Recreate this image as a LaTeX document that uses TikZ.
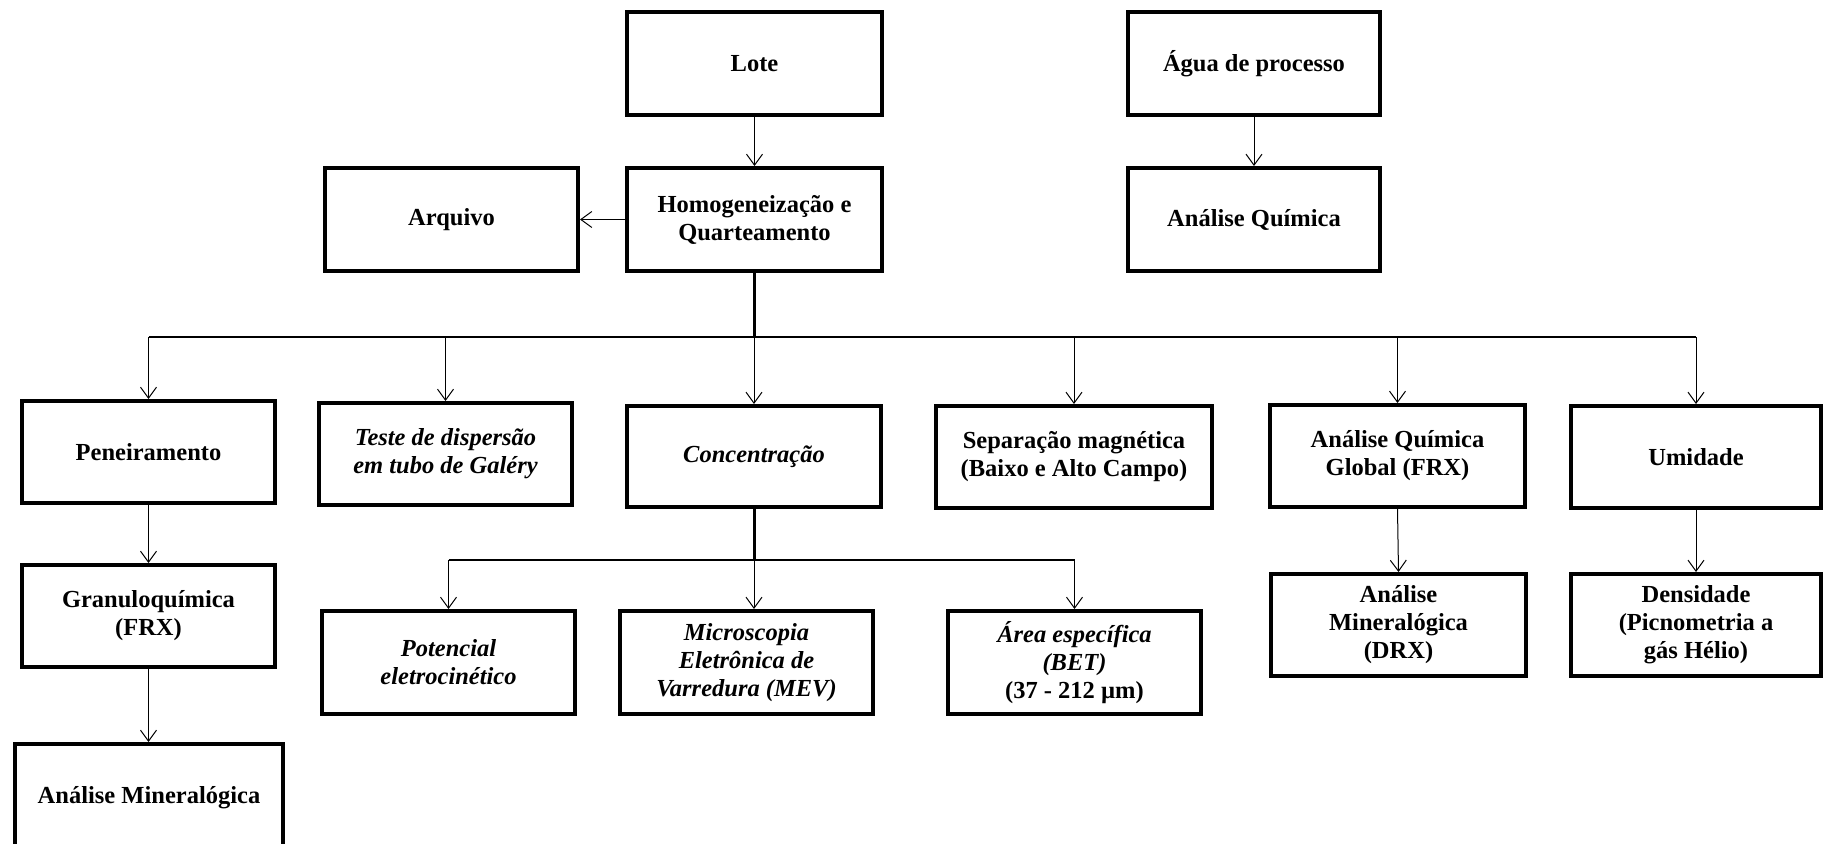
\documentclass[tikz,border=0pt]{standalone}
\usepackage{fontspec}
\setmainfont{Liberation Serif}
\usetikzlibrary{arrows.meta}
\tikzset{
  box/.style={draw, line width=4pt, inner sep=0pt, align=center,
    font=\fontsize{24.5}{28}\selectfont\bfseries},
  arr/.style={line width=1pt, -{Straight Barb[length=11pt,width=16pt]}},
  trunk/.style={line width=3pt},
  busline/.style={line width=1.5pt},
}
\begin{document}
\begin{tikzpicture}[x=1pt,y=-1pt]
\useasboundingbox (0,0) rectangle (1825,843);
\clip (0,0) rectangle (1825,843);
% top
\node[box, minimum width=255, minimum height=103] (lote) at (754.5,63.5) {Lote};
\node[box, minimum width=252, minimum height=103] (agua) at (1254,63.5) {Água de processo};
\node[box, minimum width=253, minimum height=103] (arq) at (451.5,219.5) {Arquivo};
\node[box, minimum width=255, minimum height=103] (hom) at (754.5,219.5) {Homogeneização e\\Quarteamento};
\node[box, minimum width=252, minimum height=103] (aq) at (1254,219.5) {Análise Química};
% row 2
\node[box, minimum width=253, minimum height=102] (pen) at (148.5,452) {Peneiramento};
\node[box, minimum width=253, minimum height=102] (teste) at (445.5,454) {\itshape Teste de dispersão\\\itshape em tubo de Galéry};
\node[box, minimum width=254, minimum height=101] (conc) at (754,456.5) {\itshape Concentração};
\node[box, minimum width=276, minimum height=102] (sep) at (1074,457) {Separação magnética\\(Baixo e Alto Campo)};
\node[box, minimum width=255, minimum height=102] (aqg) at (1397.5,456) {Análise Química\\Global (FRX)};
\node[box, minimum width=250, minimum height=102] (umid) at (1696,457) {Umidade};
% row 3
\node[box, minimum width=253, minimum height=102] (gran) at (148.5,616) {Granuloquímica\\(FRX)};
\node[box, anchor=north, minimum width=268, text height=59pt, text depth=130pt] (am) at (149,742) {Análise Mineralógica};
\node[box, minimum width=253, minimum height=103] (pot) at (448.5,662.5) {\itshape Potencial\\\itshape eletrocinético};
\node[box, minimum width=253, minimum height=103] (mic) at (746.5,662.5) {\itshape Microscopia\\\itshape Eletrônica de\\\itshape Varredura (MEV)};
\node[box, minimum width=253, minimum height=103] (area) at (1074.5,662.5) {\itshape Área específica\\\itshape (BET)\\(37 - 212 µm)};
\node[box, minimum width=255, minimum height=102] (drx) at (1398.5,625) {Análise\\Mineralógica\\(DRX)};
\node[box, minimum width=250, minimum height=102] (dens) at (1696,625) {Densidade\\(Picnometria a\\gás Hélio)};
% connectors top
\draw[arr] (lote) -- (hom);
\draw[arr] (agua) -- (aq);
\draw[arr] (hom.west) -- (arq.east);
\coordinate (bus) at (0,337);
\coordinate (sub) at (0,560);
\draw[trunk] (hom.south) -- (hom.south |- bus);
\draw[busline] (pen.north |- bus) -- (umid.north |- bus);
\foreach \n in {pen,teste,conc,sep,aqg,umid}
  \draw[arr] (\n.north |- bus) -- (\n.north);
% concentration sub-tree
\draw[trunk] (conc.south) -- (conc.south |- sub);
\draw[busline] (pot.north |- sub) -- (area.north |- sub);
\draw[arr] (pot.north |- sub) -- (pot.north);
\draw[arr] (conc.south |- sub) -- (conc.south |- mic.north);
\draw[arr] (area.north |- sub) -- (area.north);
% others
\draw[arr] (pen) -- (gran);
\draw[arr] (gran.south) -- (gran.south |- am.north);
\draw[arr] (aqg.south) -- (drx.north);
\draw[arr] (umid) -- (dens);
\end{tikzpicture}
\end{document}
